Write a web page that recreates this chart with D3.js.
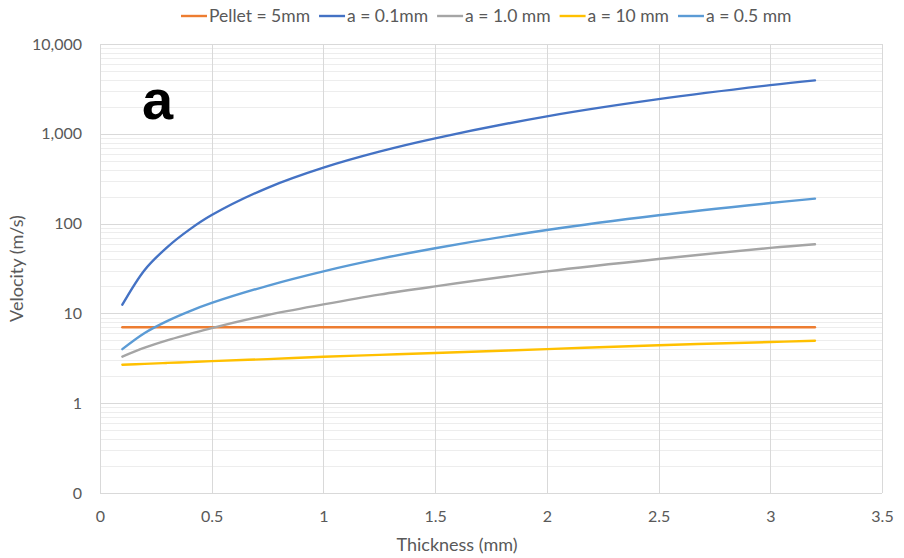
<!DOCTYPE html>
<html>
<head>
<meta charset="utf-8">
<script src="https://cdn.jsdelivr.net/npm/d3@7"></script>
<style>
  body { margin: 0; background: #fff; }
  text { font-family: Lato, "Open Sans", sans-serif; fill: #595959; }
</style>
</head>
<body>
<div id="chart"></div>
<script>
// thickness (mm) values shared by all series
var thickness = [0.1, 0.2, 0.3, 0.4, 0.5, 0.75, 1.0, 1.25, 1.5, 2.0, 2.5, 3.0, 3.2];

// velocity (m/s)
var pellet5 = [7, 7, 7, 7, 7, 7, 7, 7, 7, 7, 7, 7, 7];
var a01 = [12.5, 30.5, 54.4, 85.7, 124.5, 250.6, 420, 633, 890, 1565, 2430, 3480, 3936];
var a10 = [3.3, 4.15, 5.0, 5.88, 6.87, 9.6, 12.6, 16.2, 20.0, 29.4, 40.4, 53.6, 58.8];
var a100 = [2.68, 2.74, 2.81, 2.87, 2.94, 3.1, 3.29, 3.45, 3.62, 4.0, 4.42, 4.8, 4.96];
var a05 = [4.0, 6.05, 8.2, 10.54, 13.06, 20.3, 29.4, 40.4, 53.2, 84.9, 123.9, 169.4, 189.7];

var seriesNames = ["Pellet = 5mm", "a = 0.1mm", "a = 1.0 mm", "a = 10 mm", "a = 0.5 mm"];
var seriesValues = [pellet5, a01, a10, a100, a05];
var seriesColors = ["#ED7D31", "#4472C4", "#A5A5A5", "#FFC000", "#5B9BD5"];

var xTicks = [0, 0.5, 1, 1.5, 2, 2.5, 3, 3.5];
var yTicks = [0.1, 1, 10, 100, 1000, 10000];

var svgWidth = 904;
var svgHeight = 558;

var svg = d3.select("#chart")
  .append("svg")
  .attr("width", svgWidth)
  .attr("height", svgHeight);

var x = d3.scaleLinear().domain([0, 3.5]).range([100, 882]);
var y = d3.scaleLog().domain([0.1, 10000]).range([493, 44]);

// minor gridlines (2..9 of every decade)
var minor = [];
yTicks.slice(0, -1).forEach(function(d) {
  for (var k = 2; k <= 9; k++) minor.push(d * k);
});

svg.append("g")
  .selectAll("line")
  .data(minor)
  .enter()
  .append("line")
  .attr("x1", x(0))
  .attr("x2", x(3.5))
  .attr("y1", d => Math.round(y(d)) + 0.5)
  .attr("y2", d => Math.round(y(d)) + 0.5)
  .attr("stroke", "#EDEDED")
  .attr("stroke-width", 1);

// major gridlines
svg.append("g")
  .selectAll("line")
  .data(yTicks)
  .enter()
  .append("line")
  .attr("x1", x(0))
  .attr("x2", x(3.5))
  .attr("y1", d => Math.round(y(d)) + 0.5)
  .attr("y2", d => Math.round(y(d)) + 0.5)
  .attr("stroke", "#D9D9D9")
  .attr("stroke-width", 1);

svg.append("g")
  .selectAll("line")
  .data(xTicks)
  .enter()
  .append("line")
  .attr("x1", d => Math.round(x(d)) + 0.5)
  .attr("x2", d => Math.round(x(d)) + 0.5)
  .attr("y1", y(10000))
  .attr("y2", y(0.1))
  .attr("stroke", "#D9D9D9")
  .attr("stroke-width", 1);

// axes (labels only, lines come from the grid)
var bottomAxis = d3.axisBottom(x).tickValues(xTicks).tickSize(0).tickPadding(18)
  .tickFormat(d => d3.format("")(d));
var leftAxis = d3.axisLeft(y).tickValues(yTicks).tickSize(0).tickPadding(18)
  .tickFormat(d => d < 1 ? "0" : d3.format(",")(d));

var gx = svg.append("g")
  .attr("transform", `translate(0, ${y(0.1)})`)
  .call(bottomAxis);
var gy = svg.append("g")
  .attr("transform", `translate(${x(0)}, 0)`)
  .call(leftAxis);

[gx, gy].forEach(function(g) {
  g.select(".domain").remove();
  g.selectAll("text")
    .style("font-family", "Lato, sans-serif")
    .style("font-size", "16px")
    .attr("fill", "#595959");
});

// lines
var line = d3.line()
  .x((d, i) => x(thickness[i]))
  .y(d => y(d))
  .curve(d3.curveCatmullRom.alpha(0.5));

svg.append("g")
  .selectAll("path")
  .data(seriesValues)
  .enter()
  .append("path")
  .attr("d", d => line(d))
  .attr("fill", "none")
  .attr("stroke", (d, i) => seriesColors[i])
  .attr("stroke-width", 2.4)
  .attr("stroke-linecap", "round");

// axis titles
svg.append("text")
  .attr("x", 457)
  .attr("y", 551)
  .attr("text-anchor", "middle")
  .style("font-size", "18px")
  .text("Thickness (mm)");

svg.append("text")
  .attr("transform", `translate(23, ${(y(0.1) + y(10000)) / 2}) rotate(-90)`)
  .attr("text-anchor", "middle")
  .style("font-size", "18px")
  .text("Velocity (m/s)");

// panel letter
svg.append("text")
  .attr("x", 142)
  .attr("y", 119)
  .style("font-family", "'Liberation Sans', Arial, sans-serif")
  .style("font-weight", "bold")
  .style("font-size", "56px")
  .style("fill", "#000")
  .text("a");

// legend
var legend = svg.append("g").attr("transform", "translate(181, 16)");
var lx = 0;
seriesNames.forEach(function(name, i) {
  var item = legend.append("g").attr("transform", `translate(${lx}, 0)`);
  item.append("line")
    .attr("x1", 0)
    .attr("x2", 26)
    .attr("y1", 0)
    .attr("y2", 0)
    .attr("stroke", seriesColors[i])
    .attr("stroke-width", 2.4);
  var t = item.append("text")
    .attr("x", 28)
    .attr("y", 6)
    .style("font-size", "17.5px")
    .text(name);
  lx += 28 + t.node().getComputedTextLength() + 9;
});
</script>
</body>
</html>
